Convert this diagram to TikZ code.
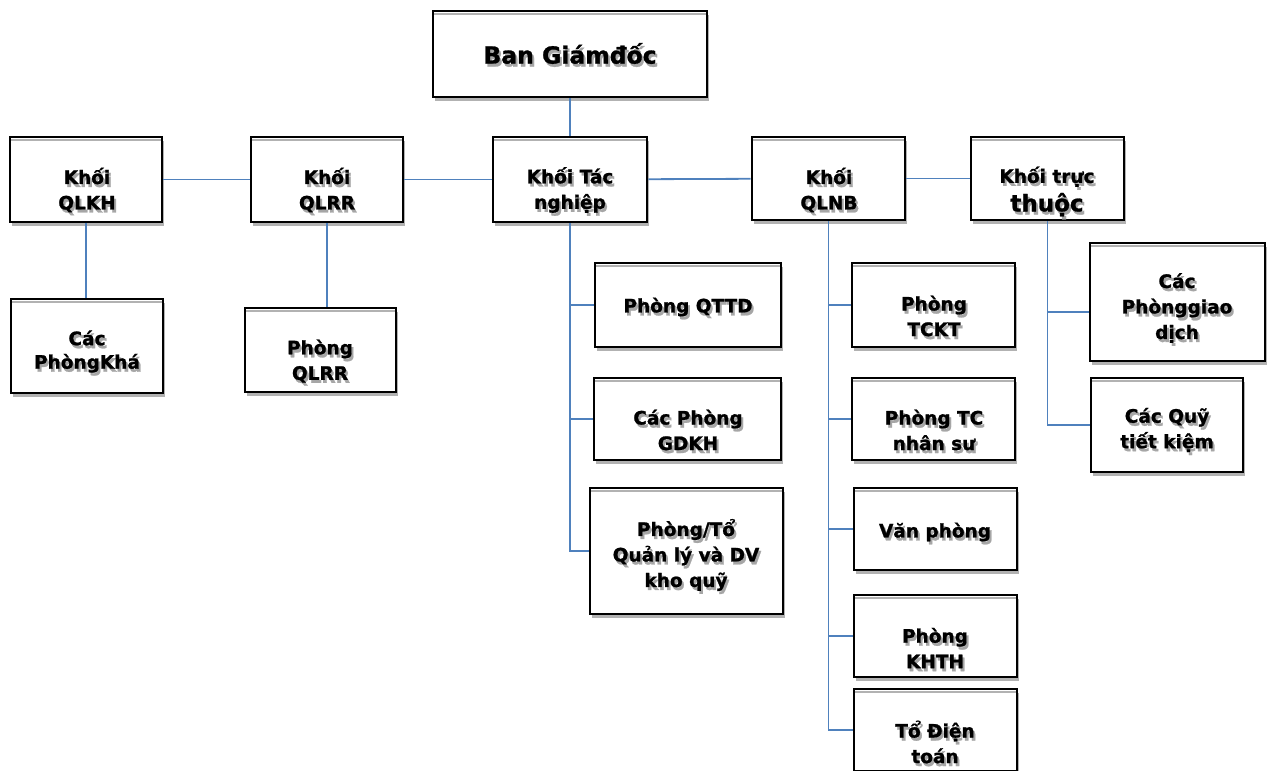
\documentclass[tikz,border=0pt]{standalone}
\usepackage{fontspec}
\setmainfont{DejaVu Sans}[BoldFeatures={FakeBold=1.2}]
\usepackage{tikz}
\usetikzlibrary{shadows}
\definecolor{linkblue}{RGB}{79,129,189}
\newcommand\sh[1]{\rlap{\kern2pt\raisebox{-3pt}{\textcolor{black!35}{#1}}}#1}

\begin{document}
\begin{tikzpicture}[x=1pt, y=-1pt,
    box/.style={draw, line width=2.6pt, fill=white, inner sep=0pt,
      drop shadow={shadow xshift=1.5pt, shadow yshift=-3.5pt, fill=black!30, opacity=1},
      path picture={\draw[black!30, line width=1.2pt]
        ([yshift=-3pt]path picture bounding box.north west) -- ([yshift=-3pt]path picture bounding box.north east);}},
    txt/.style={align=center, inner sep=0pt, font=\fontsize{18.5}{25.5}\selectfont\bfseries},
    link/.style={draw=linkblue, line width=1.8pt}]
    \useasboundingbox (0,0) rectangle (1272,771);

    % boxes
    \node[box, minimum width=274, minimum height=86] (bgd) at (570,54) {};
    \node[box, minimum width=152, minimum height=85] (qlkh) at (86,179.5) {};
    \node[box, minimum width=152, minimum height=85] (qlrr) at (327,179.5) {};
    \node[box, minimum width=154, minimum height=85] (tacng) at (570,179.5) {};
    \node[box, minimum width=153, minimum height=83] (qlnb) at (828.5,178.5) {};
    \node[box, minimum width=153, minimum height=83] (tt) at (1047.5,178.5) {};
    \node[box, minimum width=152, minimum height=94] (cacpkh) at (87,346) {};
    \node[box, minimum width=151, minimum height=84] (pqlrr) at (320.5,350) {};
    \node[box, minimum width=186, minimum height=84] (qttd) at (688,305) {};
    \node[box, minimum width=187, minimum height=82] (gdkh) at (687.5,419) {};
    \node[box, minimum width=193, minimum height=126] (phongto) at (686.5,551) {};
    \node[box, minimum width=163, minimum height=84] (tckt) at (933.5,305) {};
    \node[box, minimum width=163, minimum height=82] (tcns) at (933.5,419) {};
    \node[box, minimum width=163, minimum height=82] (vp) at (935.5,529) {};
    \node[box, minimum width=163, minimum height=82] (khth) at (935.5,636) {};
    \node[box, minimum width=163, minimum height=82] (dt) at (935.5,730) {};
    \node[box, minimum width=175, minimum height=118] (pgd) at (1177.5,302) {};
    \node[box, minimum width=152, minimum height=94] (quy) at (1167,425) {};

    % connectors
    \draw[link] (bgd) -- (tacng);
    \draw[link] (qlkh) -- (qlrr);
    \draw[link] (qlrr) -- (tacng);
    \draw[link] (tacng) -- (qlnb);
    \draw[link] (qlnb) -- (tt);
    \draw[link] (qlkh.south) -- (qlkh.south |- cacpkh.north);
    \draw[link] (qlrr.south) -- (qlrr.south |- pqlrr.north);
    \draw[link] (tacng.south) |- (qttd.west);
    \draw[link] (tacng.south) |- (gdkh.west);
    \draw[link] (tacng.south) |- (phongto.west);
    \draw[link] (qlnb.south) |- (tckt.west);
    \draw[link] (qlnb.south) |- (tcns.west);
    \draw[link] (qlnb.south) |- (vp.west);
    \draw[link] (qlnb.south) |- (khth.west);
    \draw[link] (qlnb.south) |- (dt.west);
    \draw[link] (tt.south) |- ([yshift=-10pt]pgd.west);
    \draw[link] (tt.south) |- (quy.west);

    % labels
    \node[txt, font=\fontsize{23.5}{28}\selectfont\bfseries] (bgd-t) at (570,55) {\sh{Ban Giámđốc}};
    \node[txt] (qlkh-t) at (87,191.5) {\sh{Khối}\\\sh{QLKH}};
    \node[txt] (qlrr-t) at (327,191.5) {\sh{Khối}\\\sh{QLRR}};
    \node[txt] (tacng-t) at (570,191.5) {\sh{Khối Tác}\\\sh{nghiệp}};
    \node[txt] (qlnb-t) at (829,191.5) {\sh{Khối}\\\sh{QLNB}};
    \node[txt] (tt-t) at (1047,193) {\sh{Khối trực}\\[3pt]{\fontsize{23}{25}\selectfont\sh{thuộc}}};
    \node[txt, font=\fontsize{18.5}{23.5}\selectfont\bfseries] (cacpkh-t) at (87,353) {\sh{Các}\\\sh{PhòngKhá}};
    \node[txt] (pqlrr-t) at (320,362.5) {\sh{Phòng}\\\sh{QLRR}};
    \node[txt] (qttd-t) at (688,308.5) {\sh{Phòng QTTD}};
    \node[txt] (gdkh-t) at (688,431.5) {\sh{Các Phòng}\\\sh{GDKH}};
    \node[txt] (phongto-t) at (686,556.5) {\sh{Phòng/Tổ}\\\sh{Quản lý và DV}\\\sh{kho quỹ}};
    \node[txt] (tckt-t) at (934,317.5) {\sh{Phòng}\\\sh{TCKT}};
    \node[txt] (tcns-t) at (934,431.5) {\sh{Phòng TC}\\\sh{nhân sư}};
    \node[txt] (vp-t) at (935,533.5) {\sh{Văn phòng}};
    \node[txt] (khth-t) at (935,649.5) {\sh{Phòng}\\\sh{KHTH}};
    \node[txt] (dt-t) at (935,743.5) {\sh{Tổ Điện}\\\sh{toán}};
    \node[txt] (pgd-t) at (1177,309.5) {\sh{Các}\\\sh{Phònggiao}\\\sh{dịch}};
    \node[txt] (quy-t) at (1167,431.5) {\sh{Các Quỹ}\\\sh{tiết kiệm}};
\end{tikzpicture}
\end{document}
